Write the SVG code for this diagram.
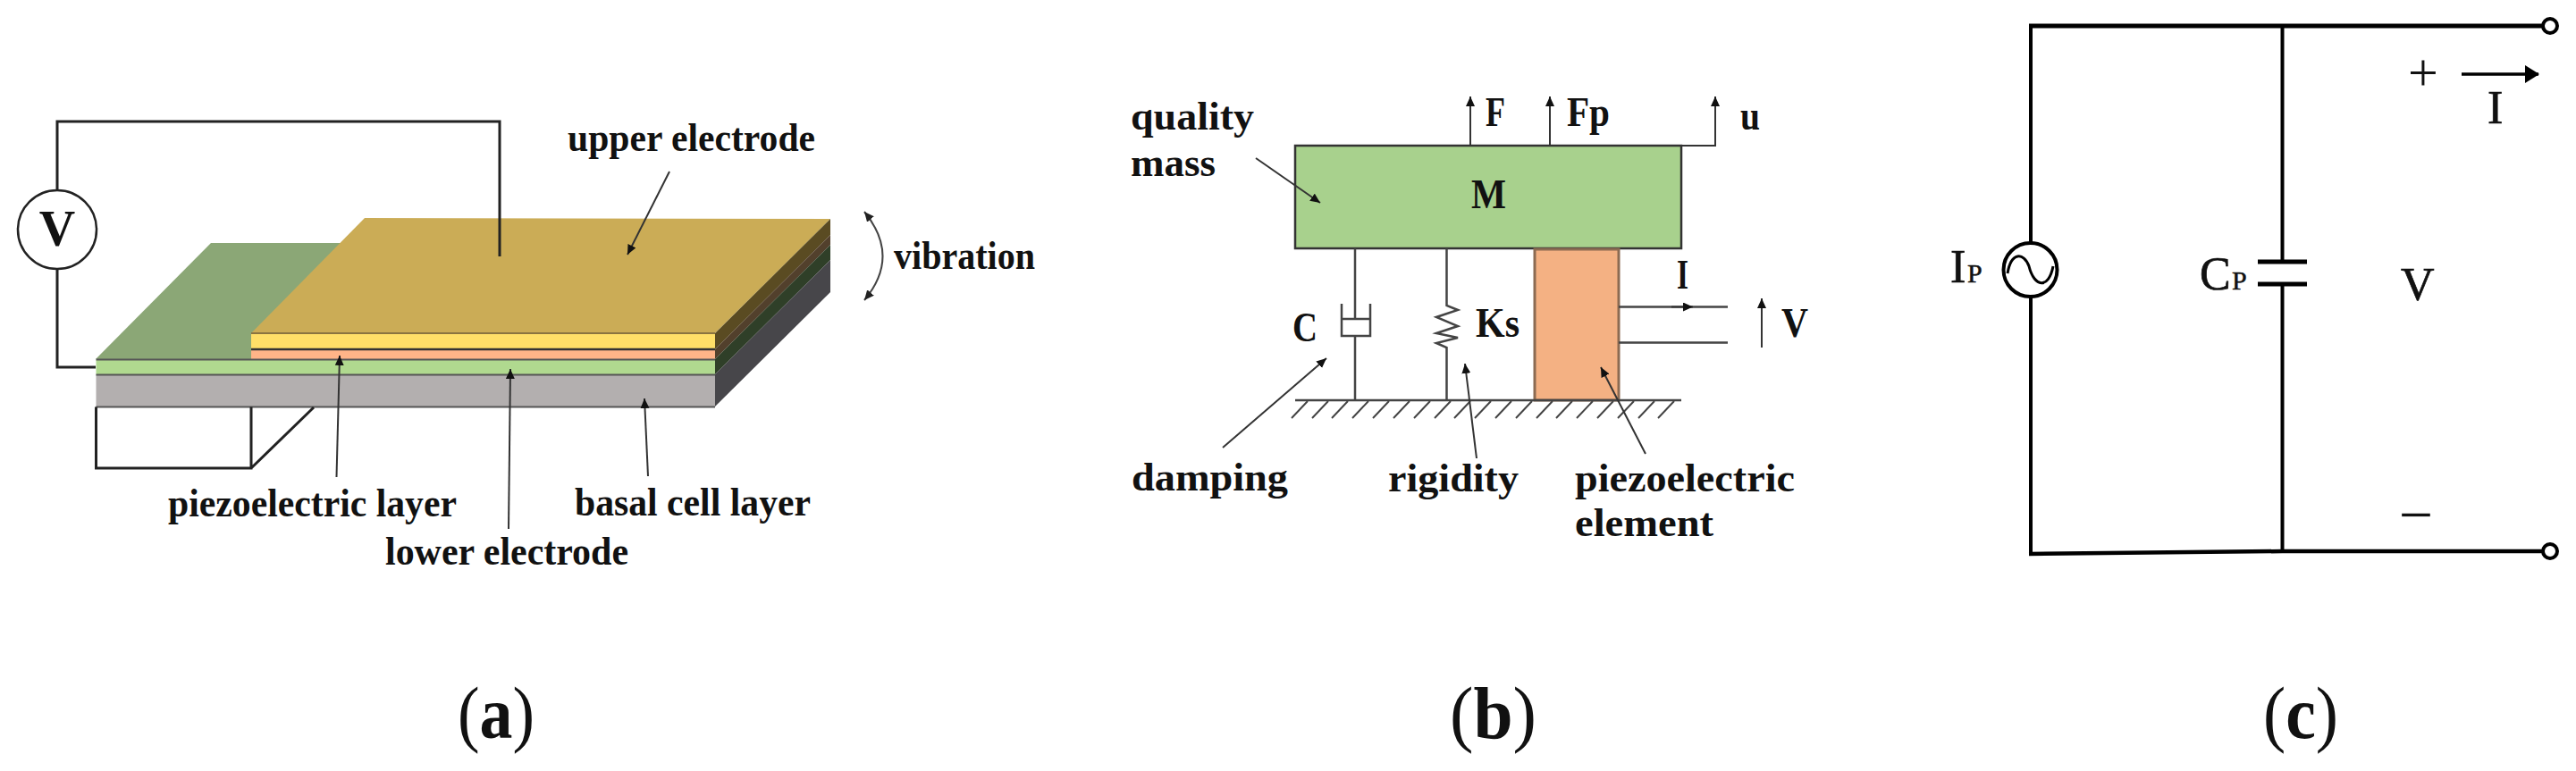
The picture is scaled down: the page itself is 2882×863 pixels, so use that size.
<svg xmlns="http://www.w3.org/2000/svg" width="2882" height="863" viewBox="0 0 2882 863">
<style>
text{font-family:"Liberation Serif","Times New Roman",serif;fill:#111}
.l{font-size:44px;font-weight:bold}
.s{font-size:46px;font-weight:bold}
.c{font-size:52px;stroke:#111;stroke-width:.7}
.cs{font-size:30px;stroke:#111;stroke-width:.5}
.cap{font-size:82px}
.cap tspan{font-weight:bold}
.w{fill:none;stroke:#222;stroke-width:3}
.t{fill:none;stroke:#444;stroke-width:2}
.p{fill:none;stroke:#444;stroke-width:2.5}
.k{fill:none;stroke:#000;stroke-width:4}
.ptr{fill:none;stroke:#333;stroke-width:2;marker-end:url(#h)}
</style>
<defs>
<marker id="h" markerUnits="userSpaceOnUse" markerWidth="14" markerHeight="14" refX="11" refY="5" orient="auto"><path d="M0 0L11 5L0 10Z" fill="#111"/></marker>
<marker id="hs" markerUnits="userSpaceOnUse" markerWidth="14" markerHeight="14" refX="11" refY="5" orient="auto-start-reverse"><path d="M0 0L11 5L0 10Z" fill="#222"/></marker>
<marker id="hb" markerUnits="userSpaceOnUse" markerWidth="20" markerHeight="22" refX="15" refY="10" orient="auto"><path d="M0 0L16 10L0 20Z" fill="#000"/></marker>
</defs>
<rect width="2882" height="863" fill="#fff"/>

<g id="panel-a-structure">
<polygon points="107,402 236,272 400,272 281,402" fill="#8ba776"/>
<polygon points="281,373 408,244 929,245 800,373" fill="#cbac56"/>
<polygon points="800,373 929,245 929,263 800,391" fill="#5a4b22"/>
<polygon points="800,391 929,263 929,274 800,402" fill="#52402c"/>
<polygon points="800,402 929,274 929,291 800,419" fill="#2f3f28"/>
<polygon points="800,419 929,291 929,327 800,455" fill="#47464a"/>
<rect x="281" y="373" width="519" height="18" fill="#ffdf68"/>
<rect x="281" y="391" width="519" height="11.500" fill="#ffb488"/>
<rect x="107.500" y="402.500" width="692.500" height="17" fill="#b0d98f"/>
<rect x="107.500" y="419.500" width="692.500" height="36" fill="#b3afaf"/>
<path d="M281 373H800" stroke="#8a7440" stroke-width="2" fill="none"/>
<path d="M281 391H800" stroke="#333" stroke-width="2.500" fill="none"/>
<path d="M107.500 402.500H800M107.500 419.500H800M107.500 455.500H800" stroke="#555" stroke-width="2" fill="none"/>
<path d="M107.500 455.500V524H281V455.500M281 524L351 456" fill="none" stroke="#222" stroke-width="3"/>
</g>
<g id="voltmeter">
<circle cx="64" cy="257" r="44" fill="#fff" stroke="#222" stroke-width="2.500"/>
<text x="64" y="275" text-anchor="middle" font-size="56" font-weight="bold">V</text>
</g>
<g id="connectors-a">
<path class="w" d="M64 213V136H559V287"/>
<path class="w" d="M64 301V411H107"/>
<path class="ptr" d="M749 192L702 285"/>
<path class="ptr" d="M376.500 534L380 398"/>
<path class="ptr" d="M569 592L571 413"/>
<path class="ptr" d="M725 533L721 446"/>
<path d="M967 237Q1008 287 967 336" fill="none" stroke="#444" stroke-width="2" marker-start="url(#hs)" marker-end="url(#hs)"/>
</g>
<g id="labels-a">
<text class="l" x="635" y="169" textLength="277" lengthAdjust="spacingAndGlyphs">upper electrode</text>
<text class="l" x="1000" y="301" textLength="158" lengthAdjust="spacingAndGlyphs">vibration</text>
<text class="l" x="188" y="578" textLength="323" lengthAdjust="spacingAndGlyphs">piezoelectric layer</text>
<text class="l" x="431" y="632" textLength="272" lengthAdjust="spacingAndGlyphs">lower electrode</text>
<text class="l" x="643" y="577" textLength="264" lengthAdjust="spacingAndGlyphs">basal cell layer</text>
</g>

<g id="mass">
<rect x="1449" y="163" width="432" height="115" fill="#a8d18d" stroke="#333" stroke-width="2.500"/>
<text class="s" x="1646" y="233" textLength="39" lengthAdjust="spacingAndGlyphs">M</text>
</g>
<g id="piezo-element">
<rect x="1717" y="279" width="94" height="169" fill="#f4b183" stroke="#8c6b52" stroke-width="3"/>
</g>
<g id="ground">
<path class="p" d="M1449 448H1881"/>
<path class="t" d="M1445 468l18-19M1468 468l18-19M1490 468l18-19M1513 468l18-19M1536 468l18-19M1559 468l18-19M1582 468l18-19M1605 468l18-19M1627 468l18-19M1650 468l18-19M1673 468l18-19M1696 468l18-19M1719 468l18-19M1741 468l18-19M1764 468l18-19M1787 468l18-19M1810 468l18-19M1833 468l18-19M1855 468l18-19"/>
</g>
<g id="damper">
<path class="p" d="M1501 340V376H1533V340M1501 357H1533M1516 278V357M1516 376V448"/>
</g>
<g id="spring">
<path class="p" d="M1618.500 278V342L1631 347L1607 355L1631 365L1607 373L1631 378L1607 384L1618.500 389V448"/>
</g>
<g id="connectors-b">
<path class="ptr" d="M1645 163V108" stroke-width="2.500"/>
<path class="ptr" d="M1734 163V108" stroke-width="2.500"/>
<path class="ptr" d="M1881 163H1919V108" stroke-width="2.500"/>
<path class="p" d="M1811 343.500H1933M1811 383.500H1933"/>
<path class="ptr" d="M1870 343.500H1894"/>
<path class="ptr" d="M1971 389V334"/>
<path class="ptr" d="M1405 177L1477 227"/>
<path class="ptr" d="M1368 501L1484 401"/>
<path class="ptr" d="M1652 513L1639 407"/>
<path class="ptr" d="M1841 508L1791 411"/>
</g>
<g id="labels-b">
<text class="s" x="1662" y="141" textLength="22" lengthAdjust="spacingAndGlyphs">F</text>
<text class="s" x="1753" y="141" textLength="48" lengthAdjust="spacingAndGlyphs">Fp</text>
<text class="s" x="1947" y="145" textLength="22" lengthAdjust="spacingAndGlyphs">u</text>
<text class="s" x="1446" y="382" textLength="28" lengthAdjust="spacingAndGlyphs">C</text>
<text class="s" x="1651" y="377" textLength="49" lengthAdjust="spacingAndGlyphs">Ks</text>
<text class="s" x="1876" y="323" textLength="13" lengthAdjust="spacingAndGlyphs">I</text>
<text class="s" x="1993" y="377" textLength="30" lengthAdjust="spacingAndGlyphs">V</text>
<text class="l" x="1265" y="145" textLength="138" lengthAdjust="spacingAndGlyphs">quality</text>
<text class="l" x="1265" y="197" textLength="95" lengthAdjust="spacingAndGlyphs">mass</text>
<text class="l" x="1266" y="549" textLength="175" lengthAdjust="spacingAndGlyphs">damping</text>
<text class="l" x="1553" y="550" textLength="146" lengthAdjust="spacingAndGlyphs">rigidity</text>
<text class="l" x="1762" y="550" textLength="246" lengthAdjust="spacingAndGlyphs">piezoelectric</text>
<text class="l" x="1762" y="600" textLength="155" lengthAdjust="spacingAndGlyphs">element</text>
</g>

<g id="connectors-c">
<path class="k" d="M2272 29V271M2272 333V620"/>
<path class="k" d="M2553.500 29V293M2553.500 318V617"/>
<path d="M2270 29H2845" fill="none" stroke="#000" stroke-width="5"/>
<path d="M2270 620L2553.500 617H2845" fill="none" stroke="#000" stroke-width="4.500"/>
<path d="M2754 83H2840" fill="none" stroke="#000" stroke-width="3.500" marker-end="url(#hb)"/>
</g>
<g id="source">
<circle cx="2271.500" cy="302" r="30" fill="#fff" stroke="#000" stroke-width="4"/>
<path d="M2246 306C2250 282 2264 282 2270 298C2276 322 2292 324 2297 298" fill="none" stroke="#000" stroke-width="3"/>
<text class="c" x="2182" y="316">I</text>
<text class="cs" x="2201" y="316">P</text>
</g>
<g id="capacitor">
<path d="M2526 293H2581M2526 318H2581" fill="none" stroke="#000" stroke-width="5"/>
<text class="c" x="2461" y="324">C</text>
<text class="cs" x="2497" y="324">P</text>
</g>
<g id="terminal-top"><circle cx="2853" cy="29" r="8" fill="#fff" stroke="#000" stroke-width="4"/></g>
<g id="terminal-bottom"><circle cx="2853" cy="617" r="8" fill="#fff" stroke="#000" stroke-width="4"/></g>
<g id="labels-c">
<text x="2711" y="101" text-anchor="middle" font-size="60">+</text>
<text x="2703" y="599" text-anchor="middle" font-size="68">−</text>
<text class="c" x="2686" y="336">V</text>
<text class="c" x="2783" y="138">I</text>
</g>

<g id="captions">
<text class="cap" x="512" y="826" textLength="86" lengthAdjust="spacingAndGlyphs">(<tspan>a</tspan>)</text>
<text class="cap" x="1622" y="826" textLength="97" lengthAdjust="spacingAndGlyphs">(<tspan>b</tspan>)</text>
<text class="cap" x="2532" y="826" textLength="84" lengthAdjust="spacingAndGlyphs">(<tspan>c</tspan>)</text>
</g>
</svg>
